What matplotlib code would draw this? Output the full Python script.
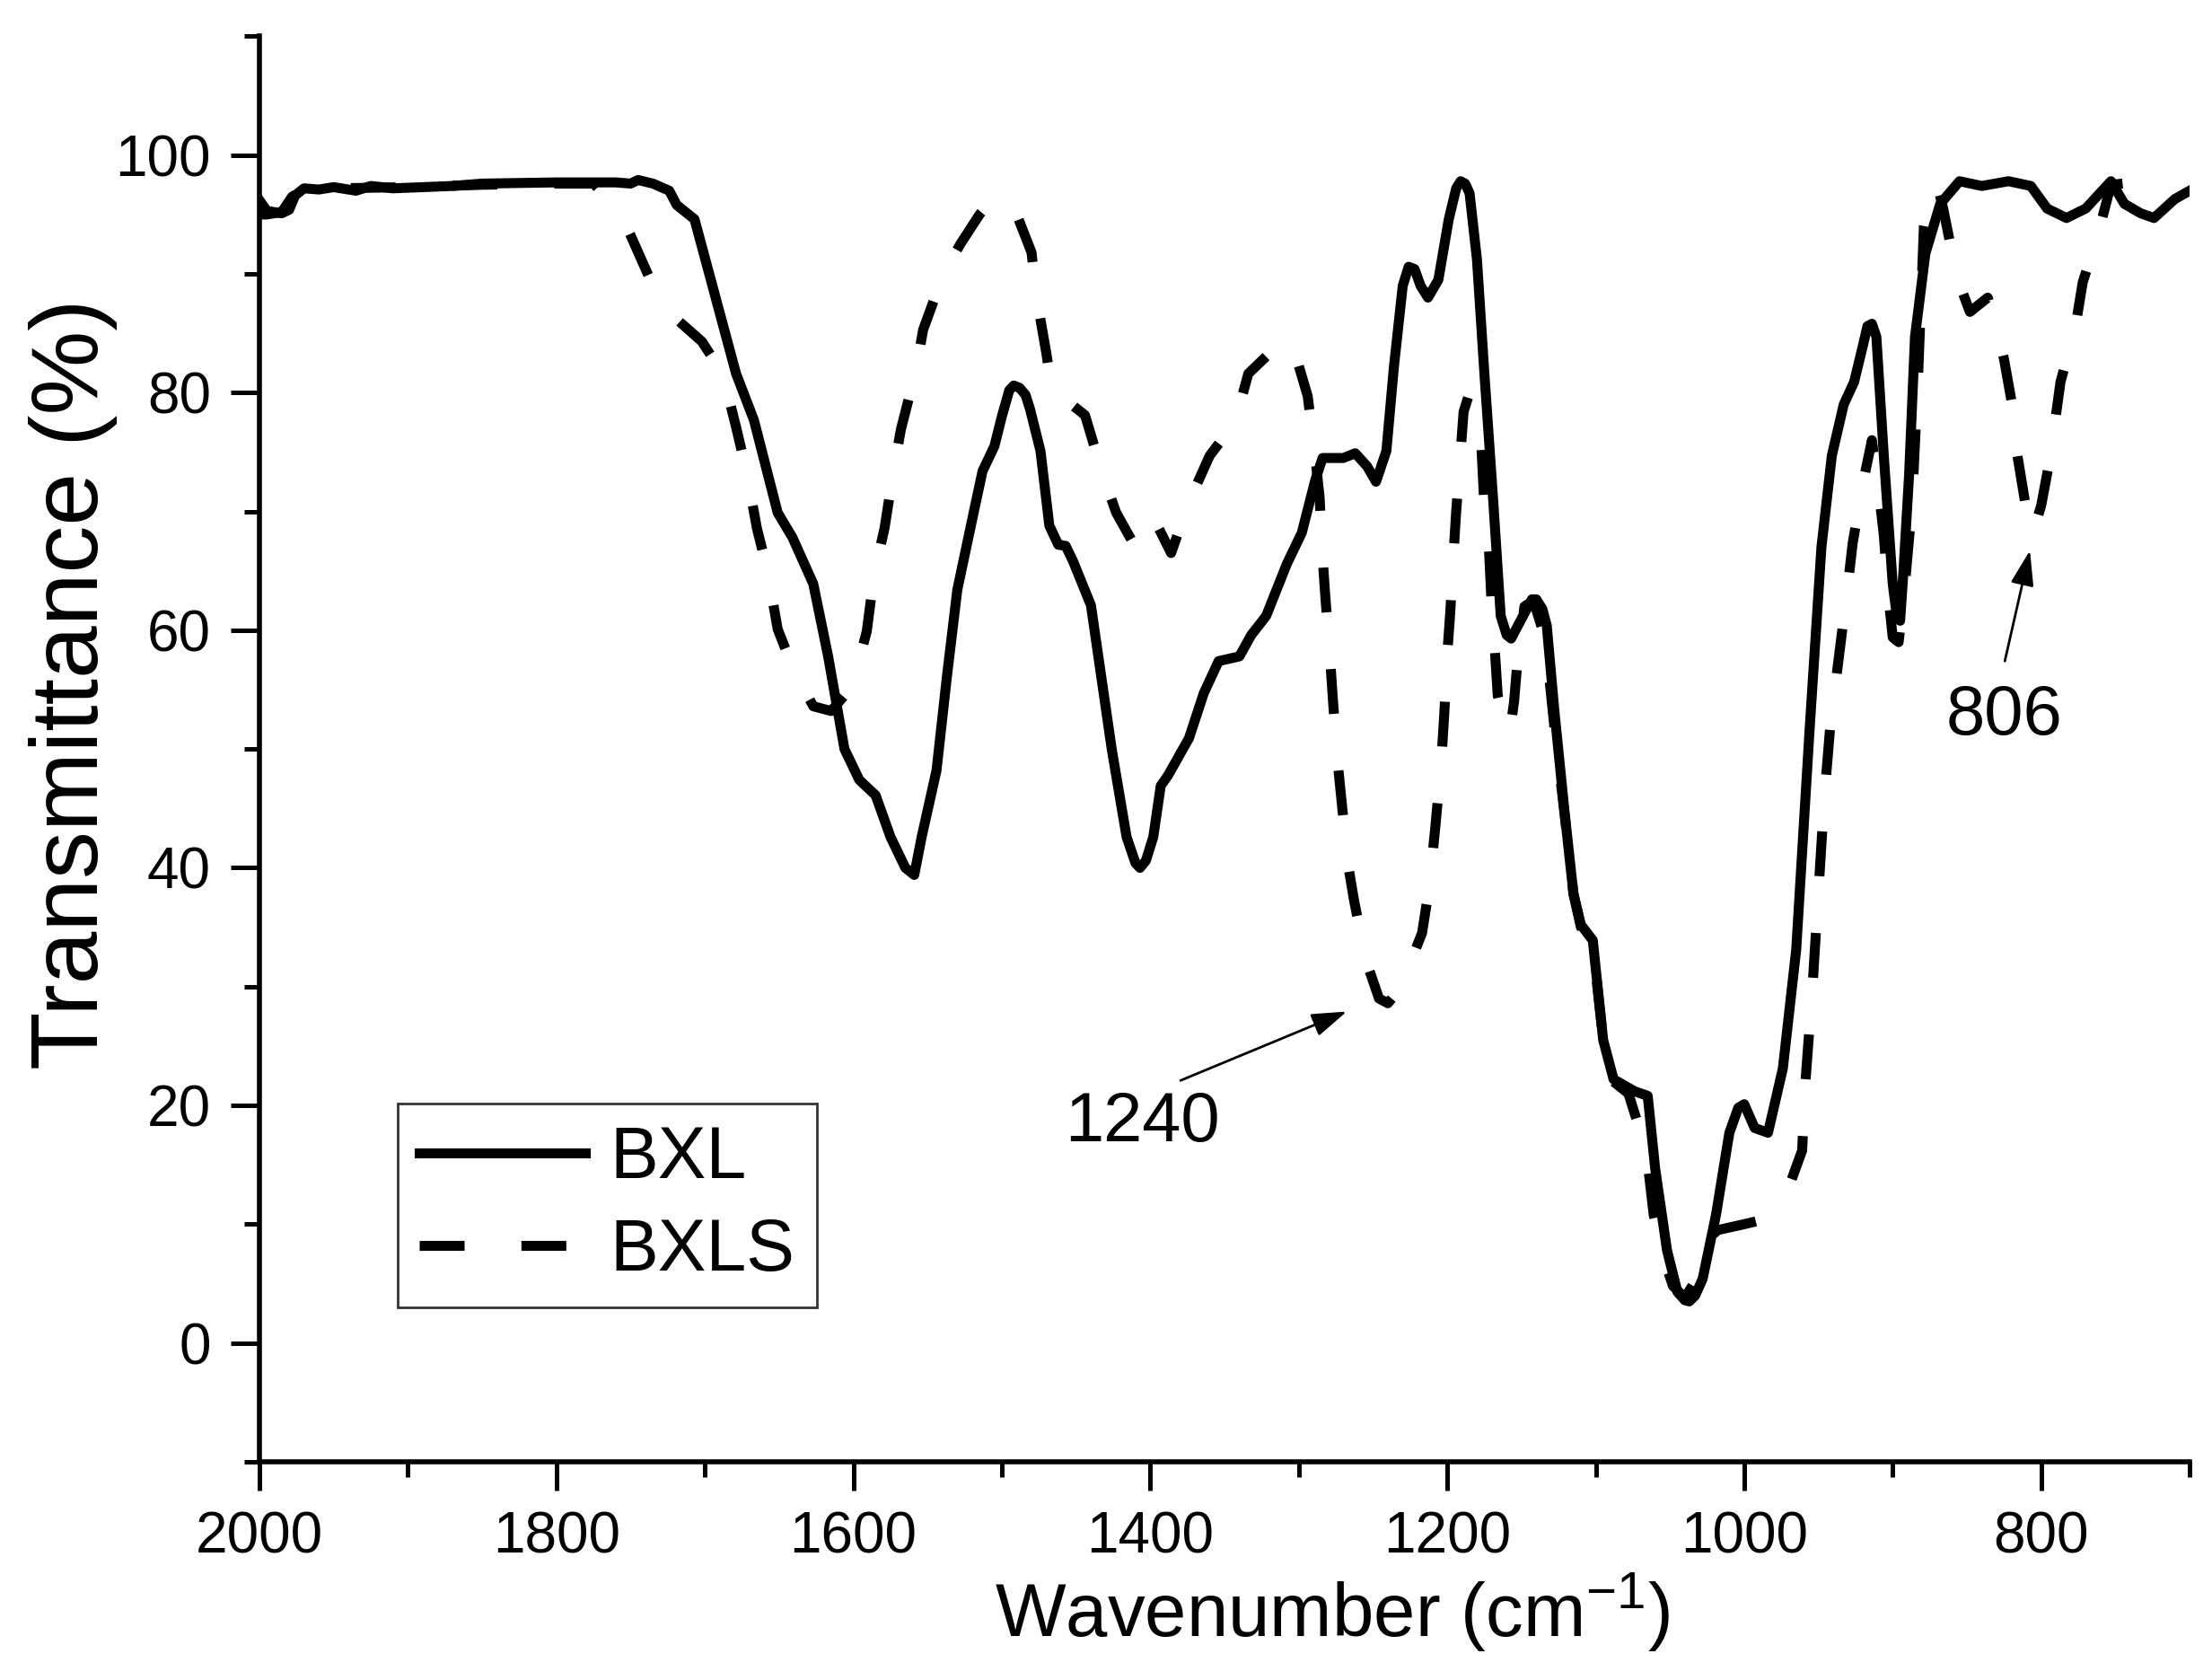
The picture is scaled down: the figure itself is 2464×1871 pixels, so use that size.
import matplotlib
matplotlib.use("Agg")
import matplotlib.pyplot as plt
from matplotlib.ticker import MultipleLocator

plt.rcParams['font.family'] = ['Liberation Sans', 'DejaVu Sans']
plt.rcParams['mathtext.fontset'] = 'custom'
plt.rcParams['mathtext.rm'] = 'Liberation Sans'
plt.rcParams['mathtext.it'] = 'Liberation Sans:italic'
plt.rcParams['mathtext.bf'] = 'Liberation Sans:bold'

# ---------------- data ----------------
bxl_x = [2000, 1995, 1985, 1980, 1976, 1970, 1960, 1950, 1935, 1925, 1910, 1890, 1870,
         1850, 1800, 1760, 1750, 1745, 1735, 1724, 1719, 1713, 1707, 1693, 1679, 1667,
         1651, 1641, 1627, 1617, 1606, 1596, 1585, 1575, 1565, 1559, 1554, 1544, 1537,
         1530, 1519, 1513, 1505, 1500, 1495, 1492, 1488, 1484, 1481, 1474, 1468, 1462,
         1457, 1452, 1440, 1426, 1416, 1410, 1407, 1403, 1398, 1393, 1388, 1374, 1364,
         1354, 1340, 1332, 1322, 1308, 1298, 1289, 1284, 1270, 1262, 1254, 1248, 1241,
         1236, 1230, 1226, 1222, 1218, 1213, 1206, 1199, 1194, 1191, 1188, 1185, 1180,
         1175, 1169, 1164, 1160, 1157, 1149, 1143, 1140, 1136, 1133, 1128, 1121, 1115,
         1110, 1102, 1095, 1088, 1074, 1065, 1060, 1052, 1045, 1040, 1037, 1033, 1028,
         1019, 1010, 1004, 1000, 993, 984, 974, 965, 956, 948, 941, 933, 926, 920, 917,
         914, 911, 906, 900, 897, 895, 893, 889, 885, 878, 868, 855, 840, 822, 807, 796,
         783, 770, 753, 744, 733, 724, 710, 700]
bxl_y = [96.2, 95.3, 95.1, 95.4, 96.6, 97.2, 97.1, 97.3, 97.0, 97.4, 97.2, 97.3, 97.4,
         97.6, 97.7, 97.7, 97.6, 97.9, 97.6, 97.0, 95.8, 95.2, 94.6, 88.1, 81.6, 77.7,
         69.9, 67.8, 63.9, 57.8, 50.0, 47.4, 46.1, 42.6, 40.0, 39.4, 42.6, 48.2, 56.1,
         63.4, 69.9, 73.4, 75.5, 78.0, 80.2, 80.6, 80.4, 79.8, 78.6, 75.1, 68.8, 67.2,
         67.1, 65.8, 62.1, 50.0, 42.6, 40.4, 40.0, 40.6, 42.6, 46.9, 47.8, 50.9, 54.7,
         57.4, 57.8, 59.6, 61.2, 65.6, 68.2, 72.6, 74.5, 74.5, 74.9, 73.8, 72.5, 75.1,
         82.1, 89.0, 90.6, 90.4, 89.0, 88.0, 89.5, 94.6, 97.2, 97.8, 97.6, 96.8, 91.2,
         81.6, 70.8, 61.2, 59.6, 59.3, 61.2, 62.6, 62.6, 61.8, 60.4, 53.4, 44.7, 37.8,
         35.2, 33.9, 25.5, 22.2, 21.2, 20.8, 14.7, 7.8, 4.3, 3.6, 3.5, 4.0, 5.4,
         10.8, 17.7, 19.8, 20.1, 18.1, 17.7, 23.1, 33.1, 51.6, 67.0, 74.7, 79.0, 80.9,
         84.0, 85.6, 85.8, 84.7, 74.7, 63.9, 61.0, 60.8, 64.5, 73.0, 84.7, 91.7, 95.9,
         97.8, 97.4, 97.8, 97.4, 95.5, 94.7, 95.5, 97.8, 95.9, 95.1, 94.7, 96.3, 97.0]

bxls_x = [2000, 1995, 1985, 1978, 1970, 1950, 1900, 1850, 1800, 1775, 1769, 1752, 1735,
          1721, 1702, 1688, 1679, 1672, 1665, 1658, 1651, 1641, 1627, 1615, 1604, 1598,
          1591, 1586, 1579, 1573, 1568, 1558, 1553, 1539, 1528, 1515, 1505, 1498, 1490,
          1480, 1477, 1470, 1466, 1456, 1444, 1432, 1423, 1410, 1398, 1386, 1374, 1360,
          1343, 1334, 1314, 1308, 1302, 1294, 1289, 1286, 1284, 1282, 1279, 1277, 1274,
          1271, 1267, 1263, 1255, 1246, 1240, 1232, 1224, 1217, 1212, 1208, 1204, 1202,
          1200, 1198, 1196, 1194, 1191, 1189, 1186, 1182, 1180, 1177, 1175, 1172, 1170,
          1168, 1166, 1162, 1158, 1155, 1152, 1148, 1142, 1134, 1128, 1121, 1115, 1110,
          1102, 1095, 1088, 1078, 1066, 1061, 1056, 1048, 1040, 1033, 1026, 1018, 1000,
          990, 980, 970, 961, 959, 954, 950, 946, 942, 938, 935, 930, 927, 920, 914,
          909, 906, 903, 900, 896, 892, 887, 883, 879, 874, 870, 866, 862, 857, 848,
          836, 830, 825, 820, 816, 811, 806, 800, 794, 787, 777, 772, 762, 753, 745, 730]
bxls_y = [95.0, 95.0, 95.2, 96.5, 97.1, 97.2, 97.3, 97.5, 97.6, 97.6, 96.8, 93.8, 89.0,
          86.4, 84.3, 81.6, 77.1, 73.4, 68.6, 65.1, 60.1, 56.9, 53.6, 53.2, 54.8, 56.6,
          59.9, 64.7, 68.6, 73.4, 76.9, 81.8, 85.3, 90.1, 92.5, 95.0, 96.5, 96.4, 95.0,
          91.8, 88.3, 83.3, 79.9, 79.3, 78.1, 73.1, 69.9, 67.0, 69.5, 66.5, 70.8, 74.7,
          77.5, 81.6, 84.0, 84.5, 83.1, 79.7, 74.7, 71.2, 66.2, 62.6, 57.8, 54.1, 49.1,
          45.4, 40.4, 37.4, 32.3, 29.0, 28.6, 29.8, 32.3, 34.5, 38.5, 43.5, 49.0, 53.0,
          58.0, 61.5, 66.0, 70.0, 75.0, 78.4, 79.6, 79.2, 78.8, 75.4, 70.4, 67.0, 61.8,
          58.4, 54.5, 52.3, 51.3, 54.0, 58.5, 62.0, 62.5, 59.3, 52.0, 44.5, 37.8, 35.0,
          33.5, 25.5, 22.0, 21.0, 16.2, 10.8, 7.8, 4.8, 3.8, 5.2, 8.5, 9.5, 10.0,
          10.3, 11.5, 13.1, 16.2, 21.6, 30.0, 38.0, 46.0, 52.0, 56.0, 59.0, 64.0, 67.3,
          72.4, 76.0, 71.3, 68.0, 63.0, 59.4, 59.0, 63.5, 70.5, 81.0, 94.0, 97.3, 97.5,
          95.5, 93.0, 89.8, 86.8, 88.0, 85.5, 82.8, 79.3, 74.7, 70.9, 68.0, 70.5, 74.5,
          80.9, 85.5, 89.3, 93.2, 97.5, 97.6, 97.8]

series_labels = ["BXL", "BXLS"]
x_ticks = [2000, 1800, 1600, 1400, 1200, 1000, 800]
y_ticks = [0, 20, 40, 60, 80, 100]

annot_texts = ["1240", "806"]
annot_text_pos = [(1405.6, 18.5), (825.1, 52.8)]
annot_tail = [(1379.6, 22.1), (824.5, 57.4)]
annot_head = [(1267.7, 27.9), (807.6, 66.7)]

# ---------------- figure ----------------
fig = plt.figure(figsize=(12.32, 9.355), dpi=200)
ax = fig.add_axes([0.1173, 0.1299, 0.8726, 0.8485])

lw = 4.0
ax.plot(bxls_x, bxls_y, color='black', lw=lw, linestyle=(0, (4.5, 5.7)),
        dash_joinstyle='round', label=series_labels[1], zorder=2)
ax.plot(bxl_x, bxl_y, color='black', lw=lw, linestyle='-',
        solid_joinstyle='round', label=series_labels[0], zorder=3)

ax.set_xlim(2000, 700)
ax.set_ylim(-10, 110)

ax.set_xticks(x_ticks)
ax.set_yticks(y_ticks)
ax.xaxis.set_minor_locator(MultipleLocator(100))
ax.yaxis.set_minor_locator(MultipleLocator(10))

for s in ['top', 'right']:
    ax.spines[s].set_visible(False)
for s in ['left', 'bottom']:
    ax.spines[s].set_linewidth(2.0)

ax.tick_params(axis='both', which='major', direction='out', length=11.5, width=1.8,
               labelsize=23, pad=8)
ax.tick_params(axis='both', which='minor', direction='out', length=6, width=1.8)

ax.set_xlabel('Wavenumber (cm$^{-1}$)', fontsize=30)
ax.set_ylabel('Transmittance (%)', fontsize=38)
ax.xaxis.label.set_verticalalignment('center')
ax.yaxis.label.set_verticalalignment('center')
ax.xaxis.set_label_coords(0.556, -0.106)
ax.yaxis.set_label_coords(-0.0963, 0.5455)

handles, labels = ax.get_legend_handles_labels()
order = [labels.index(l) for l in series_labels]
leg = ax.legend([handles[i] for i in order], [labels[i] for i in order],
                loc='lower left', bbox_to_anchor=(0.0716, 0.1083),
                borderaxespad=0, fontsize=29, frameon=True, fancybox=False,
                handlelength=2.3, handletextpad=0.34, borderpad=0.3,
                labelspacing=0.33)
leg.get_frame().set_edgecolor('black')
leg.get_frame().set_linewidth(1.0)

for txt, tpos, tail, head in zip(annot_texts, annot_text_pos, annot_tail, annot_head):
    ax.annotate('', xy=head, xytext=tail,
                arrowprops=dict(arrowstyle='-|>,head_length=0.6,head_width=0.2',
                                mutation_scale=20, lw=1.0, color='black',
                                shrinkA=0, shrinkB=0))
    ax.text(tpos[0], tpos[1], txt, fontsize=28, ha='center', va='center')

fig.savefig('out.png', dpi=200)
